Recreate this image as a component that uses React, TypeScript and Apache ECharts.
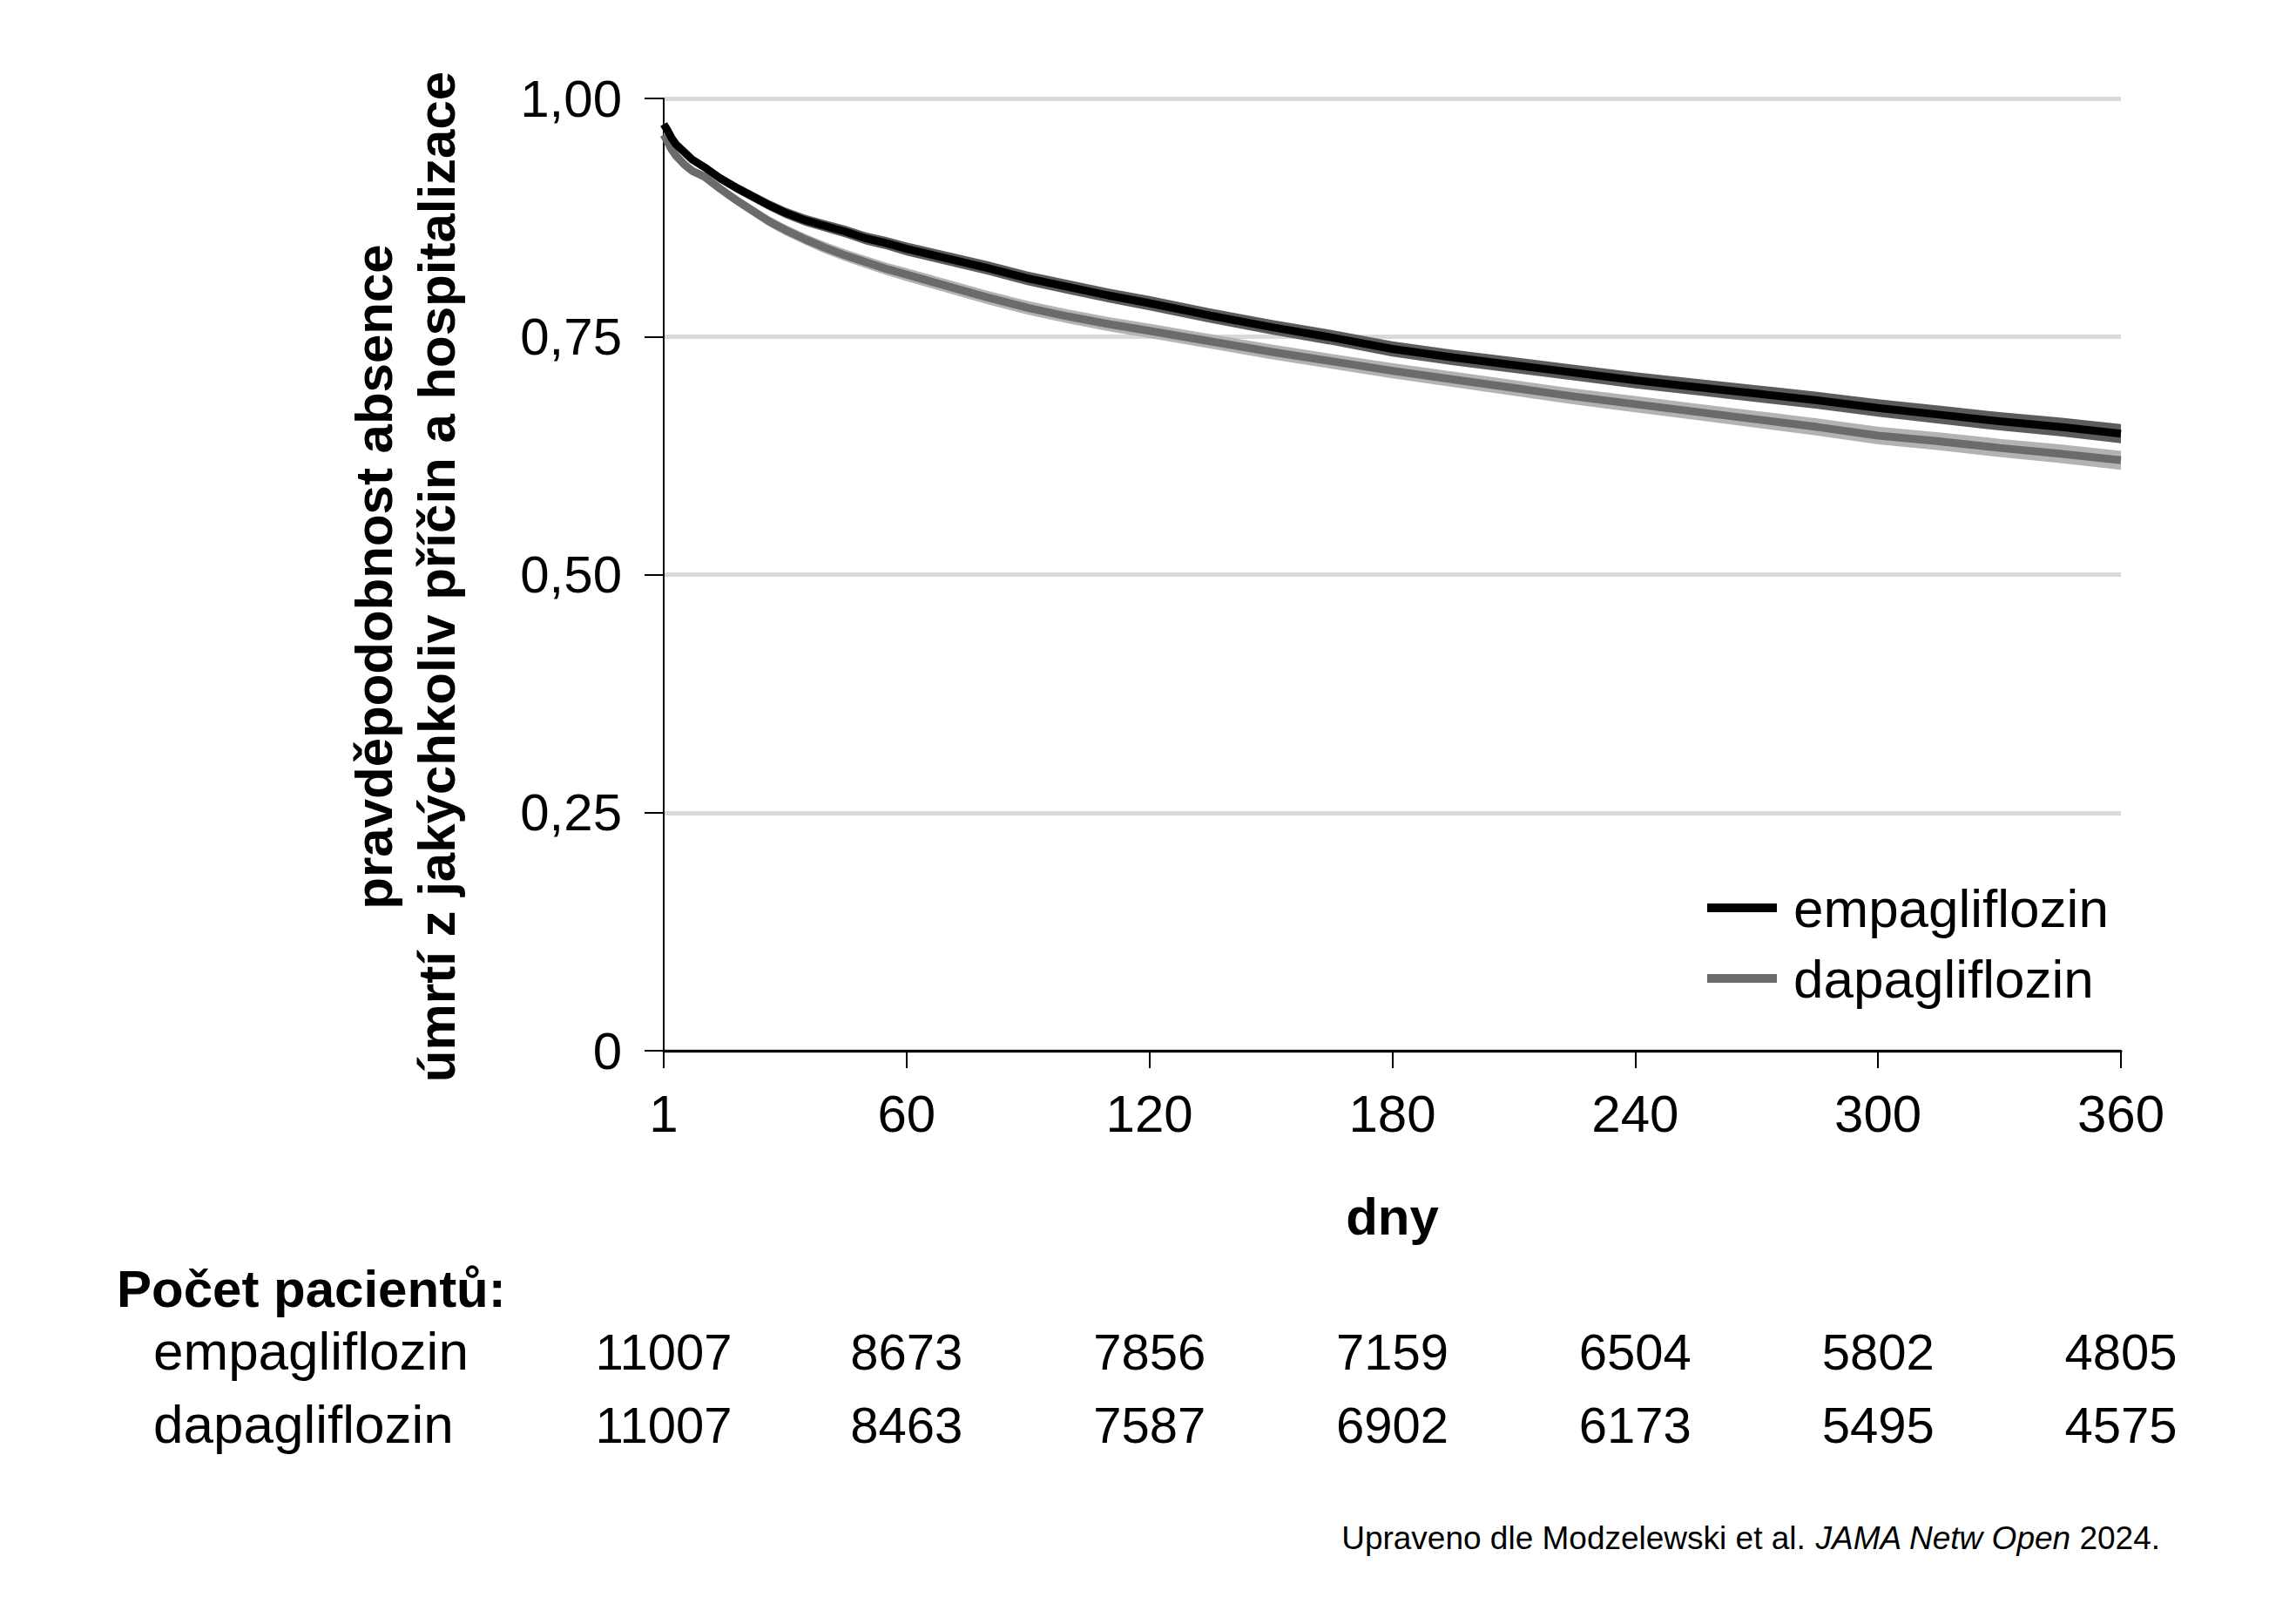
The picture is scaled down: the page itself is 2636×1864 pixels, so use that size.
import React, { useEffect, useRef } from "react";
import * as echarts from "echarts";

const DAYS = [0, 1, 2, 3, 5, 7, 10, 14, 18, 22, 26, 30, 35, 40, 45, 50, 55, 60, 70, 80, 90, 100, 110, 120, 135, 150, 165, 180, 195, 210, 225, 240, 255, 270, 285, 300, 315, 330, 345, 360];
const EMPA = [0.973, 0.966, 0.958, 0.952, 0.944, 0.936, 0.928, 0.916, 0.906, 0.897, 0.888, 0.880, 0.872, 0.866, 0.860, 0.853, 0.848, 0.842, 0.832, 0.822, 0.811, 0.802, 0.793, 0.785, 0.772, 0.760, 0.749, 0.737, 0.728, 0.720, 0.712, 0.704, 0.697, 0.690, 0.683, 0.675, 0.668, 0.661, 0.655, 0.648];
const DAPA = [0.962, 0.954, 0.946, 0.940, 0.931, 0.924, 0.918, 0.905, 0.893, 0.882, 0.871, 0.862, 0.852, 0.843, 0.835, 0.828, 0.821, 0.815, 0.803, 0.791, 0.780, 0.771, 0.763, 0.756, 0.745, 0.734, 0.724, 0.714, 0.705, 0.696, 0.687, 0.679, 0.671, 0.663, 0.655, 0.646, 0.640, 0.633, 0.627, 0.620];
// half-width of the confidence band around each curve
const EMPA_CI = [0.003, 0.003, 0.0035, 0.0035, 0.004, 0.004, 0.0045, 0.0048, 0.005, 0.0052, 0.0054, 0.0056, 0.0058, 0.006, 0.0062, 0.0064, 0.0066, 0.0068, 0.007, 0.0071, 0.0072, 0.0073, 0.0074, 0.0075, 0.0076, 0.0077, 0.0078, 0.008, 0.0081, 0.0082, 0.0083, 0.0085, 0.0086, 0.0088, 0.009, 0.0092, 0.0094, 0.0096, 0.0098, 0.0100];
const DAPA_CI = [0.003, 0.003, 0.0035, 0.0035, 0.004, 0.004, 0.0045, 0.0048, 0.005, 0.0052, 0.0054, 0.0056, 0.0058, 0.006, 0.0062, 0.0064, 0.0066, 0.0068, 0.007, 0.0071, 0.0072, 0.0073, 0.0074, 0.0075, 0.0076, 0.0077, 0.0078, 0.008, 0.0081, 0.0082, 0.0083, 0.0085, 0.0086, 0.0088, 0.009, 0.0092, 0.0094, 0.0096, 0.0098, 0.0100];

const SERIES_NAMES = ["empagliflozin", "dapagliflozin"];
const X_TICKS = [1, 60, 120, 180, 240, 300, 360];
const N_EMPA = [11007, 8673, 7856, 7159, 6504, 5802, 4805];
const N_DAPA = [11007, 8463, 7587, 6902, 6173, 5495, 4575];

const Y_TITLE_1 = "pravděpodobnost absence";
const Y_TITLE_2 = "úmrtí z jakýchkoliv příčin a hospitalizace";
const X_TITLE = "dny";
const TABLE_TITLE = "Počet pacientů:";
const SOURCE_1 = "Upraveno dle Modzelewski et al. ";
const SOURCE_2 = "JAMA Netw Open";
const SOURCE_3 = " 2024.";

const FONT = "Liberation Sans, Arial, sans-serif";

function zip(xs: number[], ys: number[]) {
  return xs.map((x, i) => [x, ys[i]]);
}

function bandSeries(id: string, values: number[], ci: number[], color: string, z: number) {
  const rows = DAYS.map((d, i) => [d, values[i] - ci[i], values[i] + ci[i]]);
  return {
    name: id + "-band",
    type: "custom",
    silent: true,
    z,
    encode: { x: 0, y: [1, 2] },
    data: rows,
    renderItem: (params: any, api: any) => {
      if (params.dataIndex !== 0) return null;
      const upper = rows.map((r) => api.coord([r[0], r[2]]));
      const lower = rows.map((r) => api.coord([r[0], r[1]])).reverse();
      return {
        type: "polygon",
        shape: { points: upper.concat(lower) },
        style: { fill: color, stroke: "none" },
      };
    },
  };
}

export default function App() {
  const ref = useRef<HTMLDivElement>(null);

  useEffect(() => {
    document.body.style.margin = "0";
    const chart = echarts.init(ref.current!, undefined, { renderer: "svg" });
    const tickIndex = (v: number) => Math.round(v / 60);
    const countAxis = (offset: number, counts: number[]) => ({
      type: "value",
      min: 0,
      max: 360,
      interval: 60,
      position: "bottom",
      offset,
      axisLine: { show: false },
      axisTick: { show: false },
      splitLine: { show: false },
      axisLabel: {
        margin: 0,
        verticalAlign: "middle",
        fontSize: 58,
        fontFamily: FONT,
        color: "#000",
        formatter: (v: number) => String(counts[tickIndex(v)]),
      },
    });

    chart.setOption({
      animation: false,
      backgroundColor: "#fff",
      textStyle: { fontFamily: FONT },
      grid: { left: 762, right: 201, top: 113, bottom: 658, containLabel: false },
      legend: {
        data: SERIES_NAMES,
        orient: "vertical",
        left: 1955,
        top: 1002,
        icon: "rect",
        itemWidth: 80,
        itemHeight: 10,
        itemGap: 11,
        textStyle: { fontSize: 62, lineHeight: 70, color: "#000", fontFamily: FONT, padding: [0, 0, 0, 14] },
      },
      xAxis: [
        {
          type: "value",
          min: 0,
          max: 360,
          interval: 60,
          axisLine: { show: true, lineStyle: { color: "#000", width: 3 } },
          axisTick: { show: true, length: 20, lineStyle: { color: "#000", width: 2 } },
          splitLine: { show: false },
          axisLabel: {
            margin: 42,
            fontSize: 60,
            fontFamily: FONT,
            color: "#000",
            formatter: (v: number) => String(X_TICKS[tickIndex(v)]),
          },
          name: X_TITLE,
          nameLocation: "middle",
          nameGap: 160,
          nameTextStyle: { fontSize: 60, fontWeight: "bold", color: "#000", fontFamily: FONT },
        },
        countAxis(345, N_EMPA),
        countAxis(429, N_DAPA),
      ],
      yAxis: {
        type: "value",
        min: 0,
        max: 1,
        interval: 0.25,
        axisLine: { show: true, lineStyle: { color: "#000", width: 2 } },
        axisTick: { show: true, length: 22, lineStyle: { color: "#000", width: 2 } },
        splitLine: { show: true, lineStyle: { color: "#d9d9d9", width: 5 } },
        axisLabel: {
          margin: 48,
          fontSize: 60,
          fontFamily: FONT,
          color: "#000",
          formatter: (v: number) => (v === 0 ? "0" : v.toFixed(2).replace(".", ",")),
        },
      },
      series: [
        bandSeries("dapa", DAPA, DAPA_CI, "#b3b3b3", 2),
        {
          name: "dapagliflozin",
          type: "line",
          data: zip(DAYS, DAPA),
          showSymbol: false,
          symbol: "none",
          lineStyle: { color: "#6b6b6b", width: 9 },
          itemStyle: { color: "#6b6b6b" },
          z: 3,
        },
        bandSeries("empa", EMPA, EMPA_CI, "#5c5c5c", 4),
        {
          name: "empagliflozin",
          type: "line",
          data: zip(DAYS, EMPA),
          showSymbol: false,
          symbol: "none",
          lineStyle: { color: "#000", width: 9 },
          itemStyle: { color: "#000" },
          z: 5,
        },
      ],
      graphic: [
        {
          type: "text",
          x: 429,
          y: 662,
          rotation: Math.PI / 2,
          style: { text: Y_TITLE_1, fontSize: 60, fontWeight: "bold", fontFamily: FONT, fill: "#000", textAlign: "center", textVerticalAlign: "middle" },
        },
        {
          type: "text",
          x: 501,
          y: 662,
          rotation: Math.PI / 2,
          style: { text: Y_TITLE_2, fontSize: 60, fontWeight: "bold", fontFamily: FONT, fill: "#000", textAlign: "center", textVerticalAlign: "middle" },
        },
        {
          type: "text",
          x: 134,
          y: 1479,
          style: { text: TABLE_TITLE, fontSize: 60, fontWeight: "bold", fontFamily: FONT, fill: "#000", textAlign: "left", textVerticalAlign: "middle" },
        },
        {
          type: "text",
          x: 176,
          y: 1550,
          style: { text: SERIES_NAMES[0], fontSize: 62, fontFamily: FONT, fill: "#000", textAlign: "left", textVerticalAlign: "middle" },
        },
        {
          type: "text",
          x: 176,
          y: 1634,
          style: { text: SERIES_NAMES[1], fontSize: 62, fontFamily: FONT, fill: "#000", textAlign: "left", textVerticalAlign: "middle" },
        },
        {
          type: "text",
          x: 2480,
          y: 1765,
          style: {
            text: `{n|${SOURCE_1}}{i|${SOURCE_2}}{n|${SOURCE_3}}`,
            textAlign: "right",
            textVerticalAlign: "middle",
            rich: {
              n: { fontSize: 37, fontFamily: FONT, fill: "#000", color: "#000" },
              i: { fontSize: 37, fontFamily: FONT, fontStyle: "italic", fill: "#000", color: "#000" },
            },
          },
        },
      ],
    });
    return () => chart.dispose();
  }, []);

  return <div ref={ref} style={{ position: "absolute", left: 0, top: 0, width: 2636, height: 1864 }} />;
}
